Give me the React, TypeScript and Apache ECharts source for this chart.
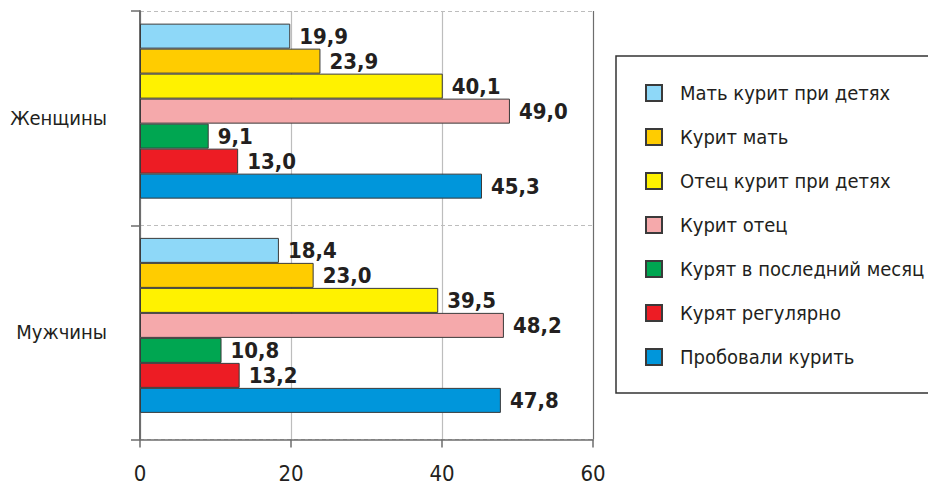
import React, { useEffect, useRef } from "react";
import * as echarts from "echarts";

const categories = ["Женщины", "Мужчины"];
const seriesNames = [
  "Мать курит при детях",
  "Курит мать",
  "Отец курит при детях",
  "Курит отец",
  "Курят в последний месяц",
  "Курят регулярно",
  "Пробовали курить",
];
const motherSmokesNearKids = [19.9, 18.4];
const motherSmokes = [23.9, 23.0];
const fatherSmokesNearKids = [40.1, 39.5];
const fatherSmokes = [49.0, 48.2];
const smokedLastMonth = [9.1, 10.8];
const smokeRegularly = [13.0, 13.2];
const triedSmoking = [45.3, 47.8];
const seriesValues = [
  motherSmokesNearKids,
  motherSmokes,
  fatherSmokesNearKids,
  fatherSmokes,
  smokedLastMonth,
  smokeRegularly,
  triedSmoking,
];
const colors = ["#8ED8F8", "#FFCC00", "#FFF200", "#F5A9AB", "#00A651", "#ED1C24", "#0096DB"];
const xTicks = [0, 20, 40, 60];

const FONT = "'Liberation Sans Narrow', 'DejaVu Sans Condensed', 'Roboto Condensed', 'Arial Narrow', sans-serif";

export default function App() {
  const ref = useRef<HTMLDivElement>(null);
  useEffect(() => {
    if (!ref.current) return;
    const chart = echarts.init(ref.current, undefined, { renderer: "svg" });
    const gridLeft = 140;
    const gridRight = 335;
    const option: any = {
      animation: false,
      backgroundColor: "#ffffff",
      grid: [
        { left: gridLeft, right: gridRight, top: 11, bottom: 46.5 },
        { left: gridLeft, right: gridRight, top: 4, bottom: 53.5 },
      ],
      xAxis: [
        {
          type: "value",
          gridIndex: 0,
          min: xTicks[0],
          max: xTicks[xTicks.length - 1],
          interval: 20,
          axisLine: { show: true, lineStyle: { color: "#6d6d6d", width: 1.5 } },
          axisTick: { show: true, length: 8, lineStyle: { color: "#6d6d6d", width: 1.5 } },
          axisLabel: {
            fontSize: 22,
            fontFamily: FONT,
            color: "#231f20",
            margin: 23,
          },
          splitLine: {
            show: true,
            lineStyle: { color: ["#6d6d6d", "#bdbdbd", "#bdbdbd", "#6d6d6d"], width: 1.2 },
          },
        },
        {
          type: "value",
          gridIndex: 1,
          min: xTicks[0],
          max: xTicks[xTicks.length - 1],
          show: false,
        },
      ],
      yAxis: [
        {
          type: "category",
          gridIndex: 0,
          data: categories,
          inverse: true,
          axisLine: { show: true, lineStyle: { color: "#6d6d6d", width: 2 } },
          axisTick: { show: true, length: 9, lineStyle: { color: "#6d6d6d", width: 1.5 } },
          axisLabel: {
            fontSize: 20,
            fontFamily: FONT,
            color: "#231f20",
            margin: 33,
          },
          splitLine: {
            show: true,
            lineStyle: { color: "#bdbdbd", type: [4, 3], width: 1 },
          },
        },
        {
          type: "category",
          gridIndex: 1,
          data: categories,
          inverse: true,
          show: false,
        },
      ],
      legend: {
        orient: "vertical",
        left: 640,
        top: 77,
        itemWidth: 16,
        itemHeight: 16,
        itemGap: 22,
        icon: "rect",
        data: seriesNames,
        textStyle: {
          fontSize: 20,
          lineHeight: 22,
          fontFamily: FONT,
          color: "#231f20",
          padding: [0, 0, 0, 13],
        },
      },
      graphic: [
        {
          type: "rect",
          shape: { x: 616, y: 56, width: 340, height: 337 },
          style: { fill: "none", stroke: "#333333", lineWidth: 1.5 },
          silent: true,
          z: -1,
        },
      ],
      series: seriesNames.map((name, i) => ({
        type: "bar",
        name,
        xAxisIndex: 1,
        yAxisIndex: 1,
        data: seriesValues[i],
        barWidth: 25,
        barGap: "0%",
        itemStyle: { color: colors[i], borderColor: "#3a3a3a", borderWidth: 1 },
        label: {
          show: true,
          position: "right",
          distance: 9,
          fontSize: 22,
          fontWeight: "bold",
          fontFamily: FONT,
          color: "#231f20",
          formatter: (p: any) => Number(p.value).toFixed(1).replace(".", ","),
        },
      })),
    };
    chart.setOption(option);
    return () => chart.dispose();
  }, []);
  return (
    <div
      ref={ref}
      style={{ position: "fixed", left: 0, top: 0, width: 928, height: 486 }}
    />
  );
}
